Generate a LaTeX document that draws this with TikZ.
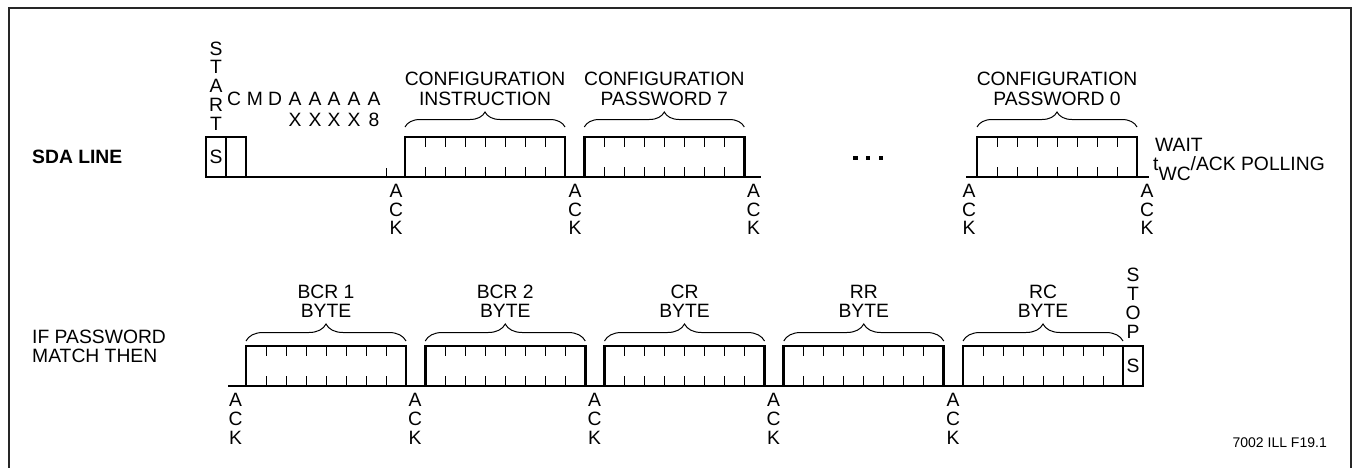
\documentclass[tikz,border=0pt]{standalone}
\usepackage{fontspec}
\setmainfont{Liberation Sans}
\usetikzlibrary{decorations.pathreplacing}
\newcommand\fs{\fontsize{19.3}{19.3}\selectfont}
\tikzset{
  lbl/.style={font=\fs, inner sep=0pt, text height=13.8pt, text depth=0pt},
  sig/.style={line width=2.6pt, line cap=rect},
  tk/.style={line width=1pt},
  frame/.style={line width=2pt, draw=black!85},
}
% #1 left x, #2 top y, #3 bottom y, #4 brace y, #5 brace amplitude
\newcommand\bytebox[5]{%
  \pgfmathsetmacro\bxl{#1}%
  \draw[sig] (\bxl,#2) rectangle ({\bxl+160},#3);
  \foreach \tkk in {1,...,7}{
    \draw[tk] ({\bxl+20*\tkk},#2) -- ++(0,10);
    \draw[tk] ({\bxl+20*\tkk},#3) -- ++(0,-10);
  }
  \draw[tk, decorate, decoration={brace, amplitude=#5pt}] (\bxl,#4) -- ({\bxl+160},#4);
}
% #1 name, #2 x, #3 y of A
\newcommand\acklbl[3]{%
  \node[lbl] (#1a) at (#2,#3) {A};
  \node[lbl] (#1c) at (#2,{#3+18.7}) {C};
  \node[lbl] (#1k) at (#2,{#3+37.4}) {K};
}
\begin{document}
\begin{tikzpicture}[x=1pt,y=-1pt]
\useasboundingbox (0,0) rectangle (1354,467);
\draw[frame] (8.5,475) -- (8.5,7.5) -- (1351,7.5) -- (1351,475);

% ---------- SDA line ----------
\node[lbl, font=\fs\bfseries, anchor=west] (sda) at (32,157) {SDA LINE};
\draw[sig] (206,177) -- (760,177);
\draw[sig] (967,177) -- (1148,177);
\draw[sig] (206,137) rectangle (226,177);
\draw[sig] (226,137) rectangle (246,177);
\node[lbl] (sbit) at (216,157) {S};
\foreach \c [count=\i] in {S,T,A,R,T}
  \node[lbl] (start\i) at (216,{48.3+18.7*(\i-1)}) {\c};
\foreach \c/\x [count=\i] in {C/234,M/255,D/275,A/295,A/315,A/334,A/354,A/374}
  \node[lbl] (cmd\i) at (\x,99) {\c};
\foreach \c/\x [count=\i] in {X/295,X/315,X/334,X/354,8/374}
  \node[lbl] (adr\i) at (\x,120) {\c};
\draw[tk] (386,168) -- (386,177);

\bytebox{405}{137}{177}{127}{15}
\bytebox{584.3}{137}{177}{127}{15}
\bytebox{977}{137}{177}{127}{15}

\node[lbl] (ci1) at (485,79) {CONFIGURATION};
\node[lbl] (ci2) at (485,98.5) {INSTRUCTION};
\node[lbl] (cp71) at (664.3,79) {CONFIGURATION};
\node[lbl] (cp72) at (664.3,98.5) {PASSWORD 7};
\node[lbl] (cp01) at (1057,79) {CONFIGURATION};
\node[lbl] (cp02) at (1057,98.5) {PASSWORD 0};

\acklbl{t1}{396}{190.5}
\acklbl{t2}{575}{190.5}
\acklbl{t3}{753.5}{190.5}
\acklbl{t4}{969}{190.5}
\acklbl{t5}{1147}{190.5}

\foreach \x in {853.3,865.8,878.8}
  \fill (\x,155.8) rectangle ++(4.5,4.5);

\node[lbl, anchor=west] (wait) at (1155,145) {WAIT};
\node[lbl, anchor=west] (poll) at (1153,163.5) {t\raisebox{-10pt}{WC}/ACK POLLING};

% ---------- second line ----------
\node[lbl, anchor=west] (if1) at (32,336.5) {IF PASSWORD};
\node[lbl, anchor=west] (if2) at (32,355.5) {MATCH THEN};
\draw[sig] (229,386) -- (1143,386);
\bytebox{246}{346}{386}{341}{17}
\bytebox{425.25}{346}{386}{341}{17}
\bytebox{604.5}{346}{386}{341}{17}
\bytebox{783.75}{346}{386}{341}{17}
\bytebox{963}{346}{386}{341}{17}
\draw[sig] (1123,346) rectangle (1143,386);
\node[lbl] (pbit) at (1133,366) {S};
\foreach \c [count=\i] in {S,T,O,P}
  \node[lbl] (stop\i) at (1133,{275+18.8*(\i-1)}) {\c};

\foreach \a/\b/\x [count=\i] in {BCR 1/BYTE/326, BCR 2/BYTE/505.25, CR/BYTE/684.5, RR/BYTE/863.75, RC/BYTE/1043}{
  \node[lbl] (bl\i) at (\x,292) {\a};
  \node[lbl] (bm\i) at (\x,310.5) {\b};
}

\acklbl{b1}{235.5}{400}
\acklbl{b2}{415}{400}
\acklbl{b3}{594.5}{400}
\acklbl{b4}{773.5}{400}
\acklbl{b5}{953}{400}

\node[font=\fontsize{14}{14}\selectfont, inner sep=0pt, text height=10pt, text depth=0pt, anchor=east] (fig) at (1327,442) {7002 ILL F19.1};
\end{tikzpicture}
\end{document}
